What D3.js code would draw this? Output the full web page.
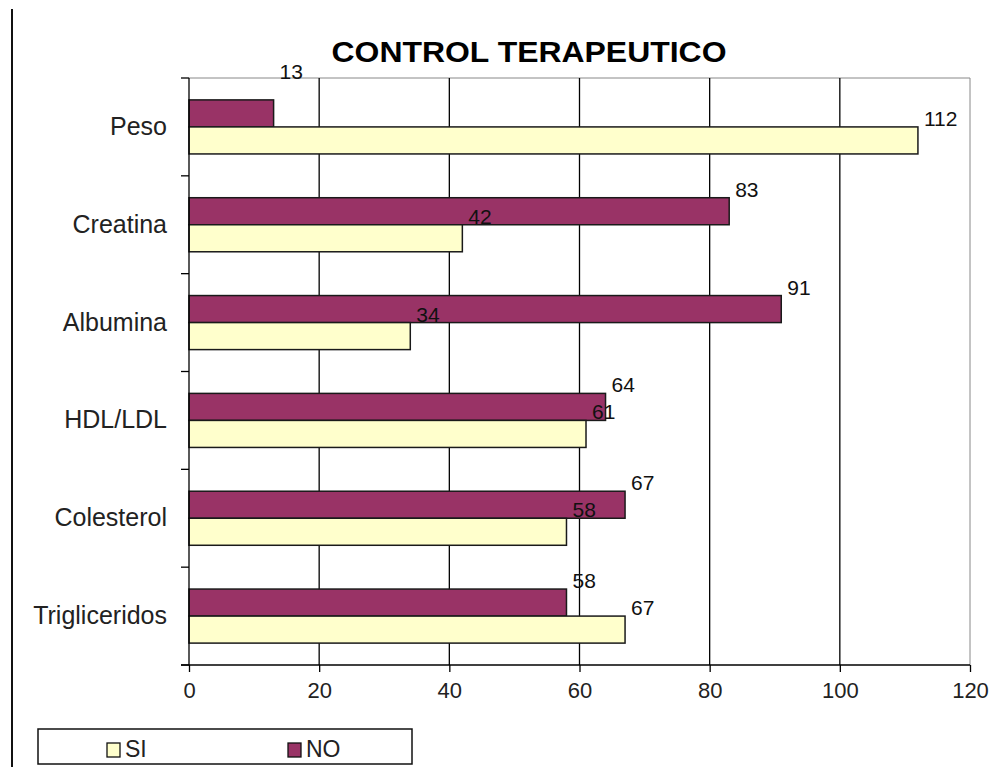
<!DOCTYPE html>
<html>
<head>
<meta charset="utf-8">
<script src="https://cdn.jsdelivr.net/npm/d3@7/dist/d3.min.js"></script>
<style>
  html, body { margin: 0; padding: 0; background: #fff; }
  svg { display: block; font-family: "Liberation Sans", Arial, sans-serif; }
</style>
</head>
<body>
<svg id="chart" width="998" height="767"></svg>
<script>
// Indicadores del control terapéutico
const categories = ["Peso", "Creatina", "Albumina", "HDL/LDL", "Colesterol", "Trigliceridos"];
const seriesNames = ["NO", "SI"];
const valuesNO = [13, 83, 91, 64, 67, 58];
const valuesSI = [112, 42, 34, 61, 58, 67];
const xTicks = [0, 20, 40, 60, 80, 100, 120];
const legendOrder = ["SI", "NO"];

const colors = { SI: "#FFFFCC", NO: "#993366" };

const svg = d3.select("#chart");
const plot = { left: 189, right: 970, top: 78, bottom: 665 };

const x = d3.scaleLinear().domain([0, 120]).range([plot.left, plot.right]);
const y = d3.scaleBand().domain(categories).range([plot.top, plot.bottom]).padding(0);
const ySub = d3.scaleBand().domain(seriesNames).range([0, y.bandwidth()])
  .paddingInner(0).paddingOuter(0.81);

// outer frame line on the left
svg.append("line").attr("x1", 12).attr("x2", 12).attr("y1", 9).attr("y2", 767)
  .attr("stroke", "#111").attr("stroke-width", 2);

// title
svg.append("text").attr("x", 529).attr("y", 62).attr("text-anchor", "middle")
  .attr("font-size", 29).attr("font-weight", "bold").attr("fill", "#000")
  .attr("textLength", 395).attr("lengthAdjust", "spacingAndGlyphs")
  .text("CONTROL TERAPEUTICO");

// plot frame (top and right)
svg.append("path")
  .attr("d", `M${plot.left},${plot.top}H${plot.right}V${plot.bottom}`)
  .attr("fill", "none").attr("stroke", "#888").attr("stroke-width", 1);

// vertical gridlines
svg.append("g").selectAll("line").data(xTicks.filter(d => d > 0 && d < 120)).join("line")
  .attr("x1", d => x(d)).attr("x2", d => x(d))
  .attr("y1", plot.top).attr("y2", plot.bottom)
  .attr("stroke", "#000").attr("stroke-width", 1.3);

// bars
const rows = categories.map((c, i) => ({ cat: c, NO: valuesNO[i], SI: valuesSI[i] }));
const bars = rows.flatMap(r => seriesNames.map(s => ({ cat: r.cat, series: s, value: r[s] })));

svg.append("g").selectAll("rect").data(bars).join("rect")
  .attr("x", x(0))
  .attr("y", d => y(d.cat) + ySub(d.series))
  .attr("width", d => x(d.value) - x(0))
  .attr("height", ySub.bandwidth())
  .attr("fill", d => colors[d.series])
  .attr("stroke", "#1a1a1a").attr("stroke-width", 1.5);

// value labels
const labelNudge = { "NO|Peso": -20 };
svg.append("g").selectAll("text").data(bars).join("text")
  .attr("x", d => x(d.value) + 6)
  .attr("y", d => y(d.cat) + ySub(d.series) - 1 + (labelNudge[d.series + "|" + d.cat] || 0))
  .attr("font-size", 21).attr("fill", "#111")
  .text(d => d.value);

// x axis
const xAxis = d3.axisBottom(x).tickValues(xTicks).tickSize(7).tickPadding(10).tickFormat(d3.format("d"));
const gx = svg.append("g").attr("transform", `translate(0,${plot.bottom})`).call(xAxis);
gx.select(".domain").remove();
gx.append("line").attr("x1", plot.left - 8).attr("x2", plot.right).attr("y1", 0).attr("y2", 0)
  .attr("stroke", "#000").attr("stroke-width", 1.3);
gx.selectAll(".tick line").attr("stroke", "#000").attr("stroke-width", 1.3);
gx.selectAll(".tick text").attr("font-size", 22).attr("fill", "#222")
  .attr("font-family", "'Liberation Sans', Arial, sans-serif");

// y axis (category boundaries)
const gy = svg.append("g");
gy.append("line").attr("x1", plot.left).attr("x2", plot.left).attr("y1", plot.top).attr("y2", plot.bottom)
  .attr("stroke", "#000").attr("stroke-width", 1.3);
const bounds = categories.map(c => y(c)).concat([plot.bottom]);
gy.selectAll("line.tk").data(bounds).join("line").attr("class", "tk")
  .attr("x1", plot.left - 8).attr("x2", plot.left).attr("y1", d => d).attr("y2", d => d)
  .attr("stroke", "#000").attr("stroke-width", 1.3);
gy.selectAll("text").data(categories).join("text")
  .attr("x", 167).attr("y", d => y(d) + y.bandwidth() / 2 + 8)
  .attr("text-anchor", "end").attr("font-size", 25).attr("fill", "#222")
  .text(d => d);

// legend
const lg = svg.append("g");
lg.append("rect").attr("x", 38).attr("y", 729).attr("width", 374).attr("height", 35)
  .attr("fill", "#fff").attr("stroke", "#111").attr("stroke-width", 1.5);
const legendX = d3.scalePoint().domain(legendOrder).range([107, 288]);
const items = lg.selectAll("g.item").data(legendOrder).join("g").attr("class", "item")
  .attr("transform", d => `translate(${legendX(d)},0)`);
items.append("rect").attr("x", 0).attr("y", 743).attr("width", 13).attr("height", 14)
  .attr("fill", d => colors[d]).attr("stroke", "#111").attr("stroke-width", 1.3);
items.append("text").attr("x", 18).attr("y", 757).attr("font-size", 23).attr("fill", "#222")
  .text(d => d);
</script>
</body>
</html>
